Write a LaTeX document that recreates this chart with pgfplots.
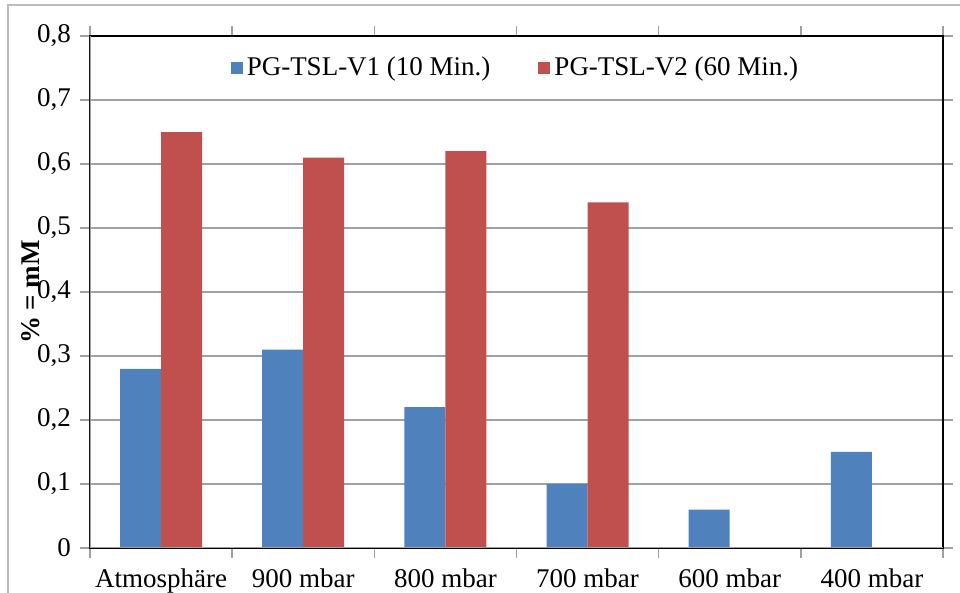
\documentclass[border=0pt]{standalone}
\usepackage{pgfplots}
\pgfplotsset{compat=1.18}
\usepackage{fontspec}
\setmainfont{Liberation Serif}
\definecolor{barblue}{HTML}{4F81BD}
\definecolor{barred}{HTML}{C0504D}
\definecolor{gridgray}{HTML}{A0A0A0}
\begin{document}
\begin{tikzpicture}
\path[use as bounding box] (-45pt,-22.5pt) rectangle (435pt,274pt);
% outer chart frame
\draw[gridgray!70, line width=0.6pt] (-41pt,-22.5pt) -- (-41pt,271.5pt) -- (435pt,271.5pt);
\begin{axis}[
  at={(0,0)}, anchor=south west,
  scale only axis,
  width=426.5pt, height=256pt,
  ybar=0pt, bar width=20.5pt,
  xmin=-0.5, xmax=5.5,
  ymin=0, ymax=0.8,
  ytick={0,0.1,...,0.8},
  xtick={0,...,5},
  xticklabels={Atmosphäre,900 mbar,800 mbar,700 mbar,600 mbar,400 mbar},
  minor xtick={-0.5,0.5,...,5.5},
  major x tick style={draw=none},
  minor x tick style={gridgray, line width=0.8pt},
  y tick style={gridgray, line width=0.8pt},
  tick align=outside,
  major tick length=5pt, minor tick length=5pt,
  ymajorgrids,
  major grid style={gridgray, line width=0.8pt},
  axis line style={black, line width=0.8pt},
  /pgf/number format/assume math mode=true,
  /pgf/number format/use comma,
  /pgf/number format/fixed,
  /pgf/number format/precision=1,
  tick label style={font=\fontsize{13.5}{15}\selectfont},
  xticklabel style={yshift=-2pt},
  yticklabel style={xshift=-1pt},
  ylabel={\textbf{\% = mM}},
  ylabel style={font=\fontsize{13.5}{15}\selectfont, at={(rel axis cs:0,0.5)}, anchor=center, yshift=29.5pt},
  legend style={draw=none, fill=none, at={(0.5,0.9375)}, anchor=center,
    legend columns=2, font=\fontsize{13.5}{15}\selectfont,
    /tikz/every even column/.append style={column sep=22pt}},
  legend image code/.code={\fill[#1] (0pt,-3pt) rectangle (6pt,3pt);},
]
\addplot[fill=barblue, draw=none] coordinates {(0,0.28) (1,0.31) (2,0.22) (3,0.10) (4,0.06) (5,0.15)};
\addplot[fill=barred, draw=none] coordinates {(0,0.65) (1,0.61) (2,0.62) (3,0.54) (4,0) (5,0)};
\legend{PG-TSL-V1 (10 Min.),PG-TSL-V2 (60 Min.)}
\draw[gridgray, line width=0.8pt] (rel axis cs:0,1) -- (rel axis cs:0,0) -- (rel axis cs:1,0);
\end{axis}
\end{tikzpicture}
\end{document}
